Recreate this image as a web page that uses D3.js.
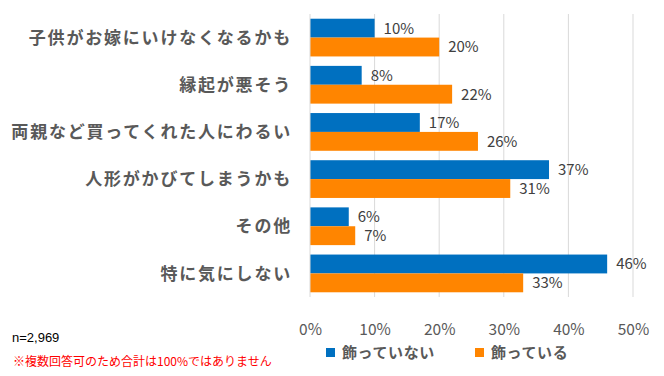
<!DOCTYPE html>
<html>
<head>
<meta charset="utf-8">
<script src="https://cdn.jsdelivr.net/npm/d3@7"></script>
<style>
  html, body { margin: 0; padding: 0; background: #fff; }
  svg { display: block; font-family: "Noto Sans CJK JP", "Noto Sans", sans-serif; }
</style>
</head>
<body>
<div id="chart"></div>
<script>
const categories = [
  "子供がお嫁にいけなくなるかも",
  "縁起が悪そう",
  "両親など買ってくれた人にわるい",
  "人形がかびてしまうかも",
  "その他",
  "特に気にしない",
];
const notDisplayed = [10, 8, 17, 37, 6, 46];
const displayed = [20, 22, 26, 31, 7, 33];
const seriesNames = ["飾っていない", "飾っている"];
const xTicks = [0, 10, 20, 30, 40, 50];

const colors = ["#0070C0", "#FF8500"];
const width = 664;
const height = 376;
const margin = { top: 14, right: 31, bottom: 79, left: 310 };

const svg = d3.select("#chart")
  .append("svg")
  .attr("width", width)
  .attr("height", height);

const x = d3.scaleLinear()
  .domain([0, 50])
  .range([margin.left, width - margin.right]);

const y = d3.scaleBand()
  .domain(categories)
  .range([margin.top, height - margin.bottom])
  .paddingInner(0.2)
  .paddingOuter(0.1);

const ySub = d3.scaleBand()
  .domain([0, 1])
  .range([0, y.bandwidth()]);

// gridlines
svg.append("g")
  .selectAll("line")
  .data(xTicks.slice(1))
  .join("line")
  .attr("x1", (d) => x(d))
  .attr("x2", (d) => x(d))
  .attr("y1", margin.top)
  .attr("y2", height - margin.bottom)
  .attr("stroke", "#d9d9d9")
  .attr("stroke-width", 1);

// x axis labels
svg.append("g")
  .attr("transform", `translate(0,${height - margin.bottom + 24})`)
  .call(d3.axisBottom(x).tickValues(xTicks).tickSize(0).tickFormat((d) => `${d}%`))
  .call((g) => g.select(".domain").remove())
  .selectAll("text")
  .attr("fill", "#595959")
  .style("font-size", "15.5px")
  .style("font-family", "'Noto Sans CJK JP', sans-serif");

// bars
const rows = categories.map((c, i) => ({ cat: c, vals: [notDisplayed[i], displayed[i]] }));

const groups = svg.append("g")
  .selectAll("g")
  .data(rows)
  .join("g")
  .attr("transform", (d) => `translate(0,${y(d.cat)})`);

groups.selectAll("rect")
  .data((d) => d.vals.map((v, k) => ({ v, k })))
  .join("rect")
  .attr("x", x(0))
  .attr("y", (d) => ySub(d.k))
  .attr("width", (d) => x(d.v) - x(0))
  .attr("height", ySub.bandwidth())
  .attr("fill", (d) => colors[d.k]);

groups.selectAll("text.val")
  .data((d) => d.vals.map((v, k) => ({ v, k })))
  .join("text")
  .attr("class", "val")
  .attr("x", (d) => x(d.v) + 9)
  .attr("y", (d) => ySub(d.k) + ySub.bandwidth() / 2)
  .attr("dy", "0.36em")
  .attr("fill", "#404040")
  .style("font-size", "15px")
  .text((d) => `${d.v}%`);

// left axis line
svg.append("line")
  .attr("x1", x(0))
  .attr("x2", x(0))
  .attr("y1", margin.top)
  .attr("y2", height - margin.bottom)
  .attr("stroke", "#d9d9d9");

// category labels
svg.append("g")
  .selectAll("text")
  .data(categories)
  .join("text")
  .attr("x", 292)
  .attr("y", (d) => y(d) + y.bandwidth() / 2)
  .attr("dy", "0.36em")
  .attr("text-anchor", "end")
  .attr("fill", "#595959")
  .style("font-size", "17px")
  .style("font-weight", "bold")
  .style("letter-spacing", "1.8px")
  .text((d) => d);

// legend
const legend = svg.append("g")
  .selectAll("g")
  .data(seriesNames)
  .join("g")
  .attr("transform", (d, i) => `translate(${[326, 475][i]},348)`);

legend.append("rect")
  .attr("width", 9)
  .attr("height", 9)
  .attr("fill", (d, i) => colors[i]);

legend.append("text")
  .attr("x", 16)
  .attr("y", 5)
  .attr("dy", "0.36em")
  .attr("fill", "#595959")
  .style("font-size", "15px")
  .style("font-weight", "bold")
  .style("letter-spacing", "0.6px")
  .text((d) => d);

// notes
svg.append("text")
  .attr("x", 12)
  .attr("y", 337)
  .attr("dy", "0.36em")
  .attr("fill", "#000")
  .style("font-size", "13px")
  .style("font-family", "'Liberation Sans', Arial, sans-serif")
  .text("n=2,969");

svg.append("text")
  .attr("x", 13)
  .attr("y", 362)
  .attr("dy", "0.36em")
  .attr("fill", "#ff0000")
  .style("font-size", "12px")
  .text("※複数回答可のため合計は100%ではありません");
</script>
</body>
</html>
